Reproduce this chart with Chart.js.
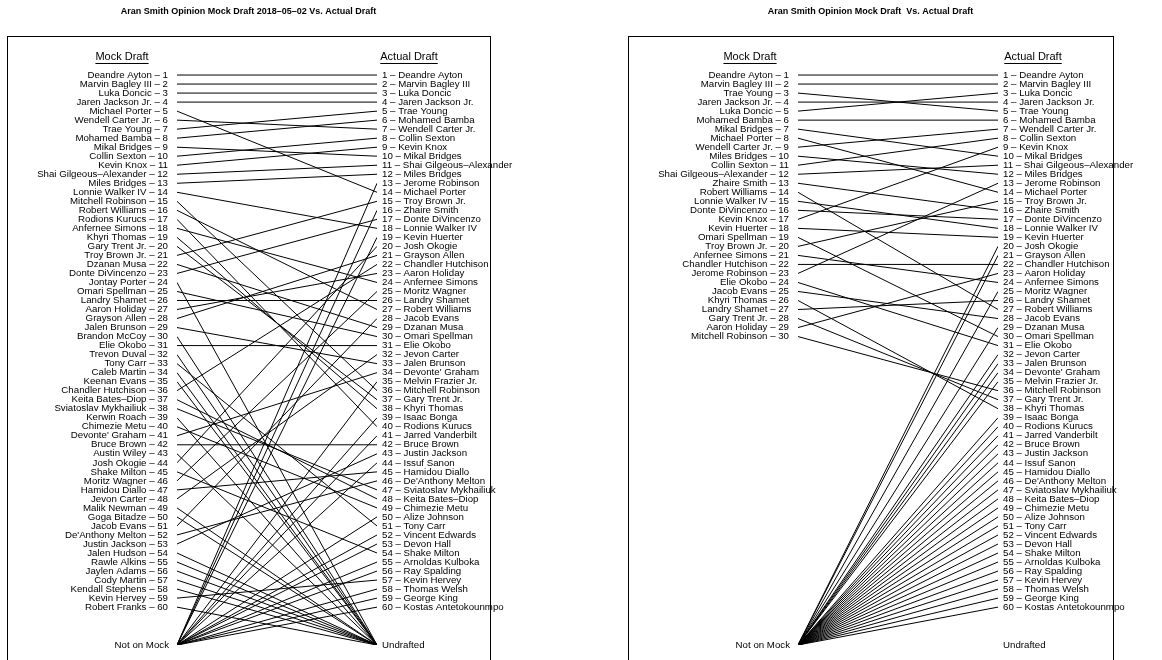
<!DOCTYPE html>
<html><head><meta charset="utf-8">
<script src="https://cdn.jsdelivr.net/npm/chart.js@4/dist/chart.umd.min.js"></script>
<style>
body{margin:0;background:#fff}
#wrap{display:flex;width:1162px;height:660px;overflow:hidden}
canvas{display:block}
</style>
</head><body>
<div id="wrap"><canvas id="c1" width="581" height="660"></canvas><canvas id="c2" width="581" height="660"></canvas></div>
<script>
const mockLeft = ["Deandre Ayton","Marvin Bagley III","Luka Doncic","Jaren Jackson Jr.","Michael Porter","Wendell Carter Jr.","Trae Young","Mohamed Bamba","Mikal Bridges","Collin Sexton","Kevin Knox","Shai Gilgeous–Alexander","Miles Bridges","Lonnie Walker IV","Mitchell Robinson","Robert Williams","Rodions Kurucs","Anfernee Simons","Khyri Thomas","Gary Trent Jr.","Troy Brown Jr.","Dzanan Musa","Donte DiVincenzo","Jontay Porter","Omari Spellman","Landry Shamet","Aaron Holiday","Grayson Allen","Jalen Brunson","Brandon McCoy","Elie Okobo","Trevon Duval","Tony Carr","Caleb Martin","Keenan Evans","Chandler Hutchison","Keita Bates–Diop","Sviatoslav Mykhailiuk","Kerwin Roach","Chimezie Metu","Devonte' Graham","Bruce Brown","Austin Wiley","Josh Okogie","Shake Milton","Moritz Wagner","Hamidou Diallo","Jevon Carter","Malik Newman","Goga Bitadze","Jacob Evans","De'Anthony Melton","Justin Jackson","Jalen Hudson","Rawle Alkins","Jaylen Adams","Cody Martin","Kendall Stephens","Kevin Hervey","Robert Franks"];
const mockRight = ["Deandre Ayton","Marvin Bagley III","Trae Young","Jaren Jackson Jr.","Luka Doncic","Mohamed Bamba","Mikal Bridges","Michael Porter","Wendell Carter Jr.","Miles Bridges","Collin Sexton","Shai Gilgeous–Alexander","Zhaire Smith","Robert Williams","Lonnie Walker IV","Donte DiVincenzo","Kevin Knox","Kevin Huerter","Omari Spellman","Troy Brown Jr.","Anfernee Simons","Chandler Hutchison","Jerome Robinson","Elie Okobo","Jacob Evans","Khyri Thomas","Landry Shamet","Gary Trent Jr.","Aaron Holiday","Mitchell Robinson"];
const actualDraft = ["Deandre Ayton","Marvin Bagley III","Luka Doncic","Jaren Jackson Jr.","Trae Young","Mohamed Bamba","Wendell Carter Jr.","Collin Sexton","Kevin Knox","Mikal Bridges","Shai Gilgeous–Alexander","Miles Bridges","Jerome Robinson","Michael Porter","Troy Brown Jr.","Zhaire Smith","Donte DiVincenzo","Lonnie Walker IV","Kevin Huerter","Josh Okogie","Grayson Allen","Chandler Hutchison","Aaron Holiday","Anfernee Simons","Moritz Wagner","Landry Shamet","Robert Williams","Jacob Evans","Dzanan Musa","Omari Spellman","Elie Okobo","Jevon Carter","Jalen Brunson","Devonte' Graham","Melvin Frazier Jr.","Mitchell Robinson","Gary Trent Jr.","Khyri Thomas","Isaac Bonga","Rodions Kurucs","Jarred Vanderbilt","Bruce Brown","Justin Jackson","Issuf Sanon","Hamidou Diallo","De'Anthony Melton","Sviatoslav Mykhailiuk","Keita Bates–Diop","Chimezie Metu","Alize Johnson","Tony Carr","Vincent Edwards","Devon Hall","Shake Milton","Arnoldas Kulboka","Ray Spalding","Kevin Hervey","Thomas Welsh","George King","Kostas Antetokounmpo"];
const titles = ["Aran Smith Opinion Mock Draft 2018–05–02 Vs. Actual Draft", "Aran Smith Opinion Mock Draft  Vs. Actual Draft"];
const headers = ["Mock Draft", "Actual Draft"];
const offLabels = ["Not on Mock", "Undrafted"];
const OFF_ROW = 64.2;

function buildSegments(mock, actual) {
  const sets = [];
  const seg = (y0, y1) => ({
    data: [{x: 0, y: y0}, {x: 1, y: y1}],
    showLine: true, borderColor: '#000', borderWidth: 1, pointRadius: 0, fill: false
  });
  mock.forEach((p, i) => {
    const j = actual.indexOf(p);
    sets.push(seg(i + 1, j >= 0 ? j + 1 : OFF_ROW));
  });
  actual.forEach((p, j) => {
    if (mock.indexOf(p) < 0) sets.push(seg(OFF_ROW, j + 1));
  });
  return sets;
}

const FONT = '"Liberation Sans", Arial, Helvetica, sans-serif';

function panelPlugin(cfg) {
  return {
    id: 'panel',
    afterDraw(chart) {
      const ctx = chart.ctx, a = chart.chartArea, ys = chart.scales.y;
      ctx.save();
      // box
      ctx.strokeStyle = '#000'; ctx.lineWidth = 1;
      ctx.strokeRect(cfg.boxL + 0.5, cfg.boxT + 0.5, cfg.boxR - cfg.boxL, 700);
      // title
      ctx.fillStyle = '#000';
      ctx.font = 'bold 9px ' + FONT;
      ctx.textAlign = 'center'; ctx.textBaseline = 'middle';
      ctx.fillText(cfg.title, (cfg.boxL + cfg.boxR) / 2, 12);
      // headers
      ctx.font = '11px ' + FONT;
      const hy = ys.getPixelForValue(-1);
      [[headers[0], a.left - cfg.mockHdrOff], [headers[1], a.right + cfg.actHdrOff]].forEach(([t, x]) => {
        ctx.fillText(t, x, hy);
        const w = ctx.measureText(t).width;
        ctx.beginPath();
        ctx.moveTo(x - w / 2, hy + 6.5); ctx.lineTo(x + w / 2, hy + 6.5);
        ctx.stroke();
      });
      // labels
      ctx.font = '9.7px ' + FONT;
      ctx.textAlign = 'right';
      cfg.mock.forEach((p, i) => ctx.fillText(p + ' – ' + (i + 1), a.left - 9, ys.getPixelForValue(i + 1)));
      ctx.fillText(offLabels[0], a.left - 8, ys.getPixelForValue(OFF_ROW));
      ctx.textAlign = 'left';
      actualDraft.forEach((p, j) => ctx.fillText((j + 1) + ' – ' + p, a.right + 5, ys.getPixelForValue(j + 1)));
      ctx.fillText(offLabels[1], a.right + 5, ys.getPixelForValue(OFF_ROW));
      ctx.restore();
    }
  };
}

function makeChart(id, mock, cfg) {
  new Chart(document.getElementById(id), {
    type: 'scatter',
    data: { datasets: buildSegments(mock, actualDraft) },
    options: {
      responsive: false, animation: false, events: [],
      layout: { padding: { left: cfg.padL, right: cfg.padR, top: 57, bottom: 15 } },
      scales: {
        x: { type: 'linear', min: 0, max: 1, display: false },
        y: { type: 'linear', min: -1, max: OFF_ROW, reverse: true, display: false }
      },
      plugins: { legend: { display: false }, tooltip: { enabled: false }, title: { display: false } }
    },
    plugins: [panelPlugin(Object.assign({ mock }, cfg))]
  });
}

makeChart('c1', mockLeft, { padL: 177, padR: 204, boxL: 7, boxR: 490, boxT: 36, title: titles[0], mockHdrOff: 55, actHdrOff: 32 });
makeChart('c2', mockRight, { padL: 217, padR: 164, boxL: 47, boxR: 532, boxT: 36, title: titles[1], mockHdrOff: 48, actHdrOff: 35 });
</script>
</body></html>
